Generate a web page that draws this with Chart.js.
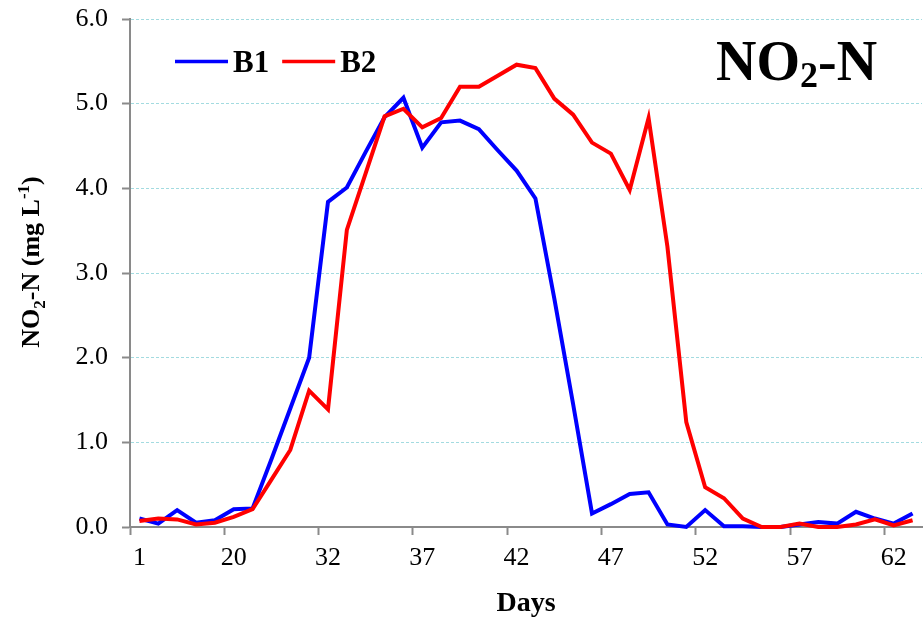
<!DOCTYPE html>
<html>
<head>
<meta charset="utf-8">
<title>NO2-N</title>
<script src="https://cdn.jsdelivr.net/npm/chart.js@4.4.1/dist/chart.umd.min.js"></script>
<style>
  html, body { margin: 0; padding: 0; background: #ffffff; }
  canvas { display: block; }
</style>
</head>
<body>
<canvas id="myChart" width="923" height="620"></canvas>
<script>
// sampling days (category axis, only every 5th one is labelled)
var days = [1, 5, 9, 13, 17, 20, 22, 25, 27, 30,
            32, 33, 34, 35, 36, 37, 38, 39, 40, 41,
            42, 43, 44, 45, 46, 47, 48, 49, 50, 51,
            52, 53, 54, 55, 56, 57, 58, 59, 60, 61,
            62, 63];

// NO2-N (mg L-1)
var b1 = [0.10, 0.04, 0.20, 0.05, 0.08, 0.21, 0.22, 0.80, 1.40, 2.00,
          3.84, 4.01, 4.43, 4.84, 5.07, 4.48, 4.78, 4.80, 4.70, 4.45,
          4.21, 3.88, 2.70, 1.45, 0.16, 0.27, 0.39, 0.41, 0.03, 0.00,
          0.20, 0.01, 0.01, 0.00, 0.00, 0.03, 0.06, 0.04, 0.18, 0.10,
          0.04, 0.16];

var b2 = [0.07, 0.10, 0.09, 0.03, 0.05, 0.12, 0.21, 0.56, 0.91, 1.61,
          1.39, 3.51, 4.18, 4.85, 4.94, 4.72, 4.83, 5.20, 5.20, 5.33,
          5.46, 5.42, 5.06, 4.87, 4.54, 4.41, 3.98, 4.83, 3.31, 1.24,
          0.47, 0.34, 0.10, 0.00, 0.00, 0.04, 0.00, 0.00, 0.03, 0.09,
          0.02, 0.08];

var seriesNames  = ["B1", "B2"];
var seriesColors = ["#0000ff", "#ff0000"];

var yMin = 0;
var yMax = 6;
var yStep = 1;

var SERIF = "'Liberation Serif', 'Times New Roman', serif";
var AXIS_GRAY = "#8a8a8a";

// draw a list of [text, size, shift] pieces one after the other
function drawRuns(ctx, runs, x, y) {
  for (var i = 0; i < runs.length; i++) {
    ctx.font = "bold " + runs[i][1] + "px " + SERIF;
    ctx.fillText(runs[i][0], x, y + runs[i][2]);
    x += ctx.measureText(runs[i][0]).width;
  }
}

function runsWidth(ctx, runs) {
  var w = 0;
  for (var i = 0; i < runs.length; i++) {
    ctx.font = "bold " + runs[i][1] + "px " + SERIF;
    w += ctx.measureText(runs[i][0]).width;
  }
  return w;
}

var textPlugin = {
  id: "texts",
  afterDraw: function(chart) {
    var ctx = chart.ctx;
    var area = chart.chartArea;
    ctx.save();
    ctx.fillStyle = "#000000";
    ctx.textBaseline = "alphabetic";
    ctx.textAlign = "left";

    // big label top right
    drawRuns(ctx, [["NO", 56, 0], ["2", 36, 7], ["-N", 56, 0]], 716, 80);

    // legend
    var x = 175;
    var ds = chart.data.datasets;
    for (var i = 0; i < ds.length; i++) {
      ctx.strokeStyle = ds[i].borderColor;
      ctx.lineWidth = 3.5;
      ctx.beginPath();
      ctx.moveTo(x, 61.5);
      ctx.lineTo(x + 53, 61.5);
      ctx.stroke();
      x += 58;
      ctx.font = "bold 31px " + SERIF;
      ctx.fillText(ds[i].label, x, 72);
      x += ctx.measureText(ds[i].label).width + 13;
    }

    // x axis title
    ctx.font = "bold 28px " + SERIF;
    ctx.textAlign = "center";
    ctx.fillText("Days", (area.left + area.right) / 2, 611);

    // y axis title, rotated
    ctx.textAlign = "left";
    var yRuns = [["NO", 26, 0], ["2", 17, 6], ["-N (mg L", 26, 0], ["-1", 17, -10], [")", 26, 0]];
    var w = runsWidth(ctx, yRuns);
    ctx.translate(39, 262);
    ctx.rotate(-Math.PI / 2);
    drawRuns(ctx, yRuns, -w / 2, 0);

    ctx.restore();
  }
};

function makeDataset(i, values) {
  return {
    label: seriesNames[i],
    data: values,
    borderColor: seriesColors[i],
    backgroundColor: seriesColors[i],
    borderWidth: 4,
    pointRadius: 0,
    tension: 0,
    fill: false,
    clip: false,
    order: 2 - i
  };
}

var ctx = document.getElementById("myChart").getContext("2d");

var myChart = new Chart(ctx, {
  type: "line",
  data: {
    labels: days,
    datasets: [makeDataset(0, b1), makeDataset(1, b2)]
  },
  options: {
    responsive: false,
    animation: false,
    layout: {
      padding: { top: 19, right: 1, left: 0, bottom: 0 }
    },
    plugins: {
      legend: { display: false },
      tooltip: { enabled: false }
    },
    scales: {
      x: {
        type: "category",
        offset: true,
        afterFit: function(scale) {
          scale.height = 93;
          scale.paddingLeft = 0;
          scale.paddingRight = 0;
        },
        grid: {
          offset: true,
          drawOnChartArea: false,
          tickLength: 8,
          tickWidth: 2,
          tickColor: function(c) { return c.index % 5 === 0 ? AXIS_GRAY : "rgba(0,0,0,0)"; }
        },
        border: { color: AXIS_GRAY, width: 2 },
        ticks: {
          autoSkip: false,
          maxRotation: 0,
          padding: 8,
          color: "#000000",
          font: { family: SERIF, size: 26 },
          callback: function(value, index) {
            return index % 5 === 0 ? String(days[index]) : "";
          }
        }
      },
      y: {
        min: yMin,
        max: yMax,
        afterFit: function(scale) {
          scale.width = 130;
          scale.paddingTop = 0;
          scale.paddingBottom = 0;
        },
        grid: {
          color: "#a3dbe0",
          lineWidth: 1,
          tickLength: 8,
          tickWidth: 2,
          tickColor: AXIS_GRAY
        },
        border: { color: AXIS_GRAY, width: 2, dash: [3, 2] },
        ticks: {
          stepSize: yStep,
          padding: 14,
          color: "#000000",
          font: { family: SERIF, size: 26 },
          callback: function(value) { return value.toFixed(1); }
        }
      }
    }
  },
  plugins: [textPlugin]
});
</script>
</body>
</html>
